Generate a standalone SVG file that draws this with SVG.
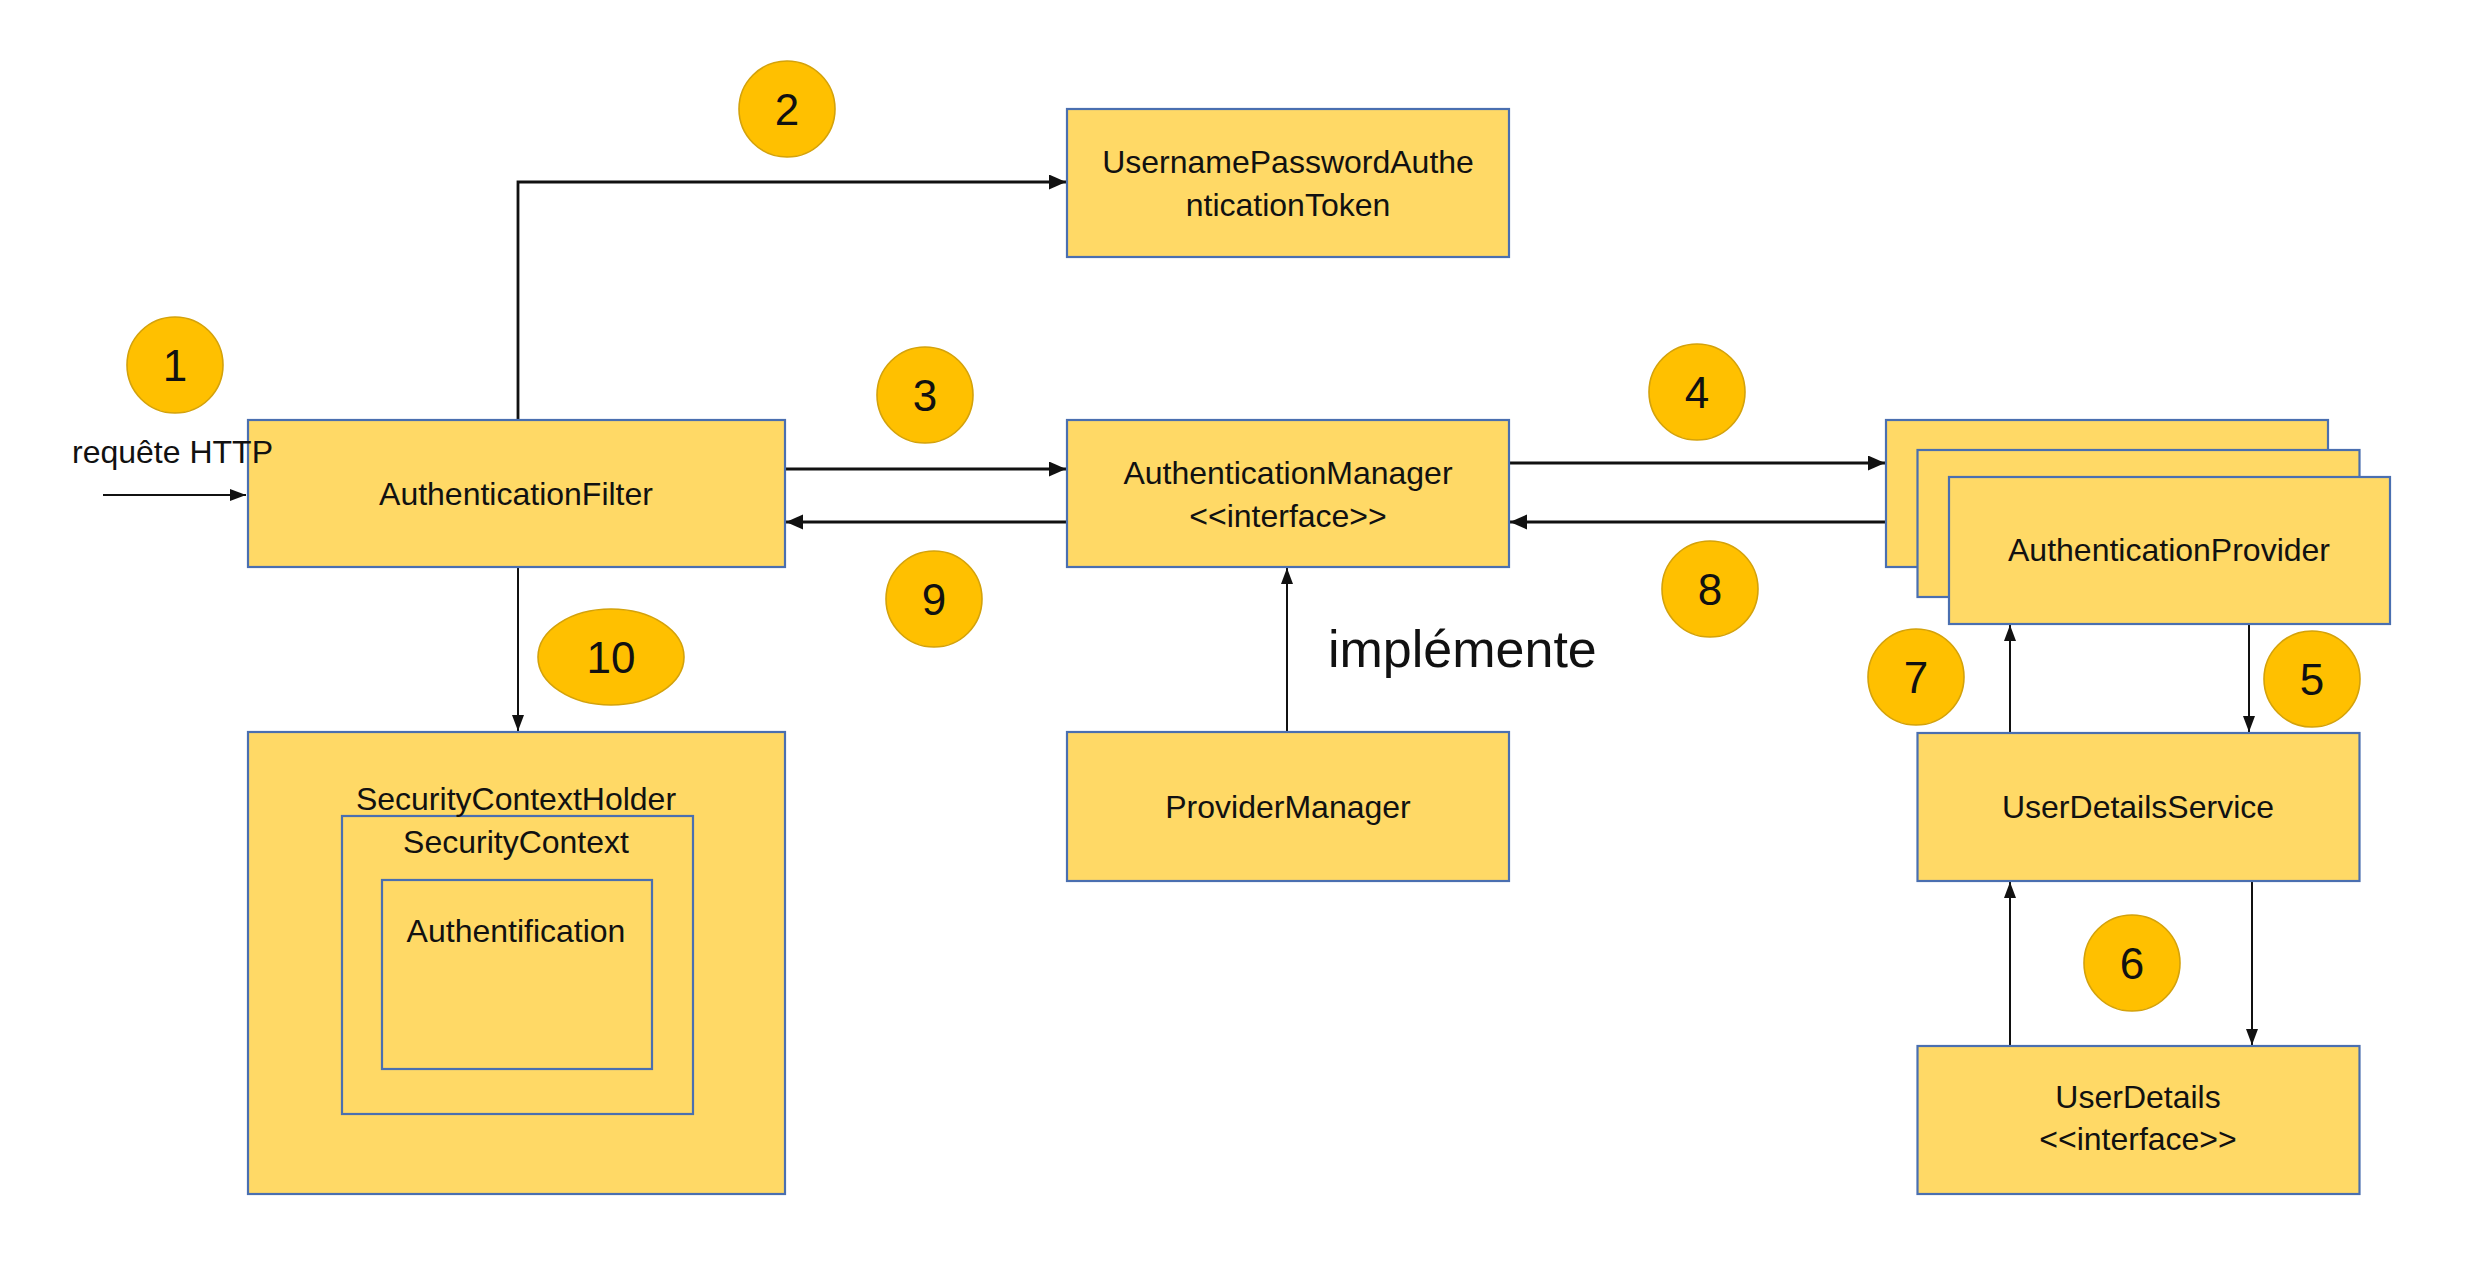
<svg xmlns="http://www.w3.org/2000/svg" width="2472" height="1264" viewBox="0 0 2472 1264">
<style>
.box{fill:#FFD966;stroke:#4A6FB0;stroke-width:2.2}
.t{font-family:"Liberation Sans",Arial,sans-serif;font-size:32px;fill:#111;text-anchor:middle}
.num{font-family:"Liberation Sans",Arial,sans-serif;font-size:44px;fill:#111;text-anchor:middle}
.badge{fill:#FFC000;stroke:#D4A20A;stroke-width:1.6}
.c{fill:none;stroke:#111;stroke-width:2.8}
.c2{fill:none;stroke:#111;stroke-width:2}
</style>
<defs>
<marker id="ah" markerUnits="userSpaceOnUse" markerWidth="18" markerHeight="16" refX="17" refY="7.5" orient="auto">
<path d="M0,0 L17,7.5 L0,15 z" fill="#111"/>
</marker>
<marker id="ah2" markerUnits="userSpaceOnUse" markerWidth="17" markerHeight="13" refX="16" refY="6" orient="auto">
<path d="M0,0 L16,6 L0,12 z" fill="#111"/>
</marker>
</defs>
<rect width="2472" height="1264" fill="#fff"/>

<g id="connectors">
<path class="c2" d="M103,495 H246" marker-end="url(#ah2)"/>
<path class="c" d="M518,420 V182 H1066" marker-end="url(#ah)"/>
<path class="c" d="M785,469 H1066" marker-end="url(#ah)"/>
<path class="c" d="M1067,522 H786" marker-end="url(#ah)"/>
<path class="c" d="M1509,463 H1885" marker-end="url(#ah)"/>
<path class="c" d="M1886,522 H1510" marker-end="url(#ah)"/>
<path class="c2" d="M1287,732 V568" marker-end="url(#ah2)"/>
<path class="c2" d="M518,567 V731" marker-end="url(#ah2)"/>
<path class="c2" d="M2010,733 V625" marker-end="url(#ah2)"/>
<path class="c2" d="M2249,624 V732" marker-end="url(#ah2)"/>
<path class="c2" d="M2010,1046 V882" marker-end="url(#ah2)"/>
<path class="c2" d="M2252,882 V1045" marker-end="url(#ah2)"/>
</g>

<g id="authenticationFilter">
<rect class="box" x="248" y="420" width="537" height="147"/>
<text class="t" x="516" y="505">AuthenticationFilter</text>
</g>
<g id="usernamePasswordToken">
<rect class="box" x="1067" y="109" width="442" height="148"/>
<text class="t" x="1288" y="173">UsernamePasswordAuthe</text>
<text class="t" x="1288" y="216">nticationToken</text>
</g>
<g id="authenticationManager">
<rect class="box" x="1067" y="420" width="442" height="147"/>
<text class="t" x="1288" y="484">AuthenticationManager</text>
<text class="t" x="1288" y="527">&lt;&lt;interface&gt;&gt;</text>
</g>
<g id="authenticationProvider">
<rect class="box" x="1886" y="420" width="442" height="147"/>
<rect class="box" x="1917.5" y="450" width="442" height="147"/>
<rect class="box" x="1949" y="477" width="441" height="147"/>
<text class="t" x="2169" y="561">AuthenticationProvider</text>
</g>
<g id="providerManager">
<rect class="box" x="1067" y="732" width="442" height="149"/>
<text class="t" x="1288" y="818">ProviderManager</text>
</g>
<g id="securityContextHolder">
<rect class="box" x="248" y="732" width="537" height="462"/>
<rect class="box" x="342" y="816" width="351" height="298"/>
<rect class="box" x="382" y="880" width="270" height="189"/>
<text class="t" x="516" y="810">SecurityContextHolder</text>
<text class="t" x="516" y="853">SecurityContext</text>
<text class="t" x="516" y="942">Authentification</text>
</g>
<g id="userDetailsService">
<rect class="box" x="1917.5" y="733" width="442" height="148"/>
<text class="t" x="2138" y="818">UserDetailsService</text>
</g>
<g id="userDetails">
<rect class="box" x="1917.5" y="1046" width="442" height="148"/>
<text class="t" x="2138" y="1108">UserDetails</text>
<text class="t" x="2138" y="1150">&lt;&lt;interface&gt;&gt;</text>
</g>

<g id="requete-label">
<text x="72" y="463" font-family="'Liberation Sans',Arial,sans-serif" font-size="32" fill="#111">requête HTTP</text>
</g>
<g id="implemente-label">
<text x="1328" y="667" font-family="'Liberation Sans',Arial,sans-serif" font-size="52" fill="#111">implémente</text>
</g>

<g id="badge1"><circle class="badge" cx="175" cy="365" r="48"/><text class="num" x="175" y="381">1</text></g>
<g id="badge2"><circle class="badge" cx="787" cy="109" r="48"/><text class="num" x="787" y="125">2</text></g>
<g id="badge3"><circle class="badge" cx="925" cy="395" r="48"/><text class="num" x="925" y="411">3</text></g>
<g id="badge4"><circle class="badge" cx="1697" cy="392" r="48"/><text class="num" x="1697" y="408">4</text></g>
<g id="badge5"><circle class="badge" cx="2312" cy="679" r="48"/><text class="num" x="2312" y="695">5</text></g>
<g id="badge6"><circle class="badge" cx="2132" cy="963" r="48"/><text class="num" x="2132" y="979">6</text></g>
<g id="badge7"><circle class="badge" cx="1916" cy="677" r="48"/><text class="num" x="1916" y="693">7</text></g>
<g id="badge8"><circle class="badge" cx="1710" cy="589" r="48"/><text class="num" x="1710" y="605">8</text></g>
<g id="badge9"><circle class="badge" cx="934" cy="599" r="48"/><text class="num" x="934" y="615">9</text></g>
<g id="badge10"><ellipse class="badge" cx="611" cy="657" rx="73" ry="48"/><text class="num" x="611" y="673">10</text></g>
</svg>
